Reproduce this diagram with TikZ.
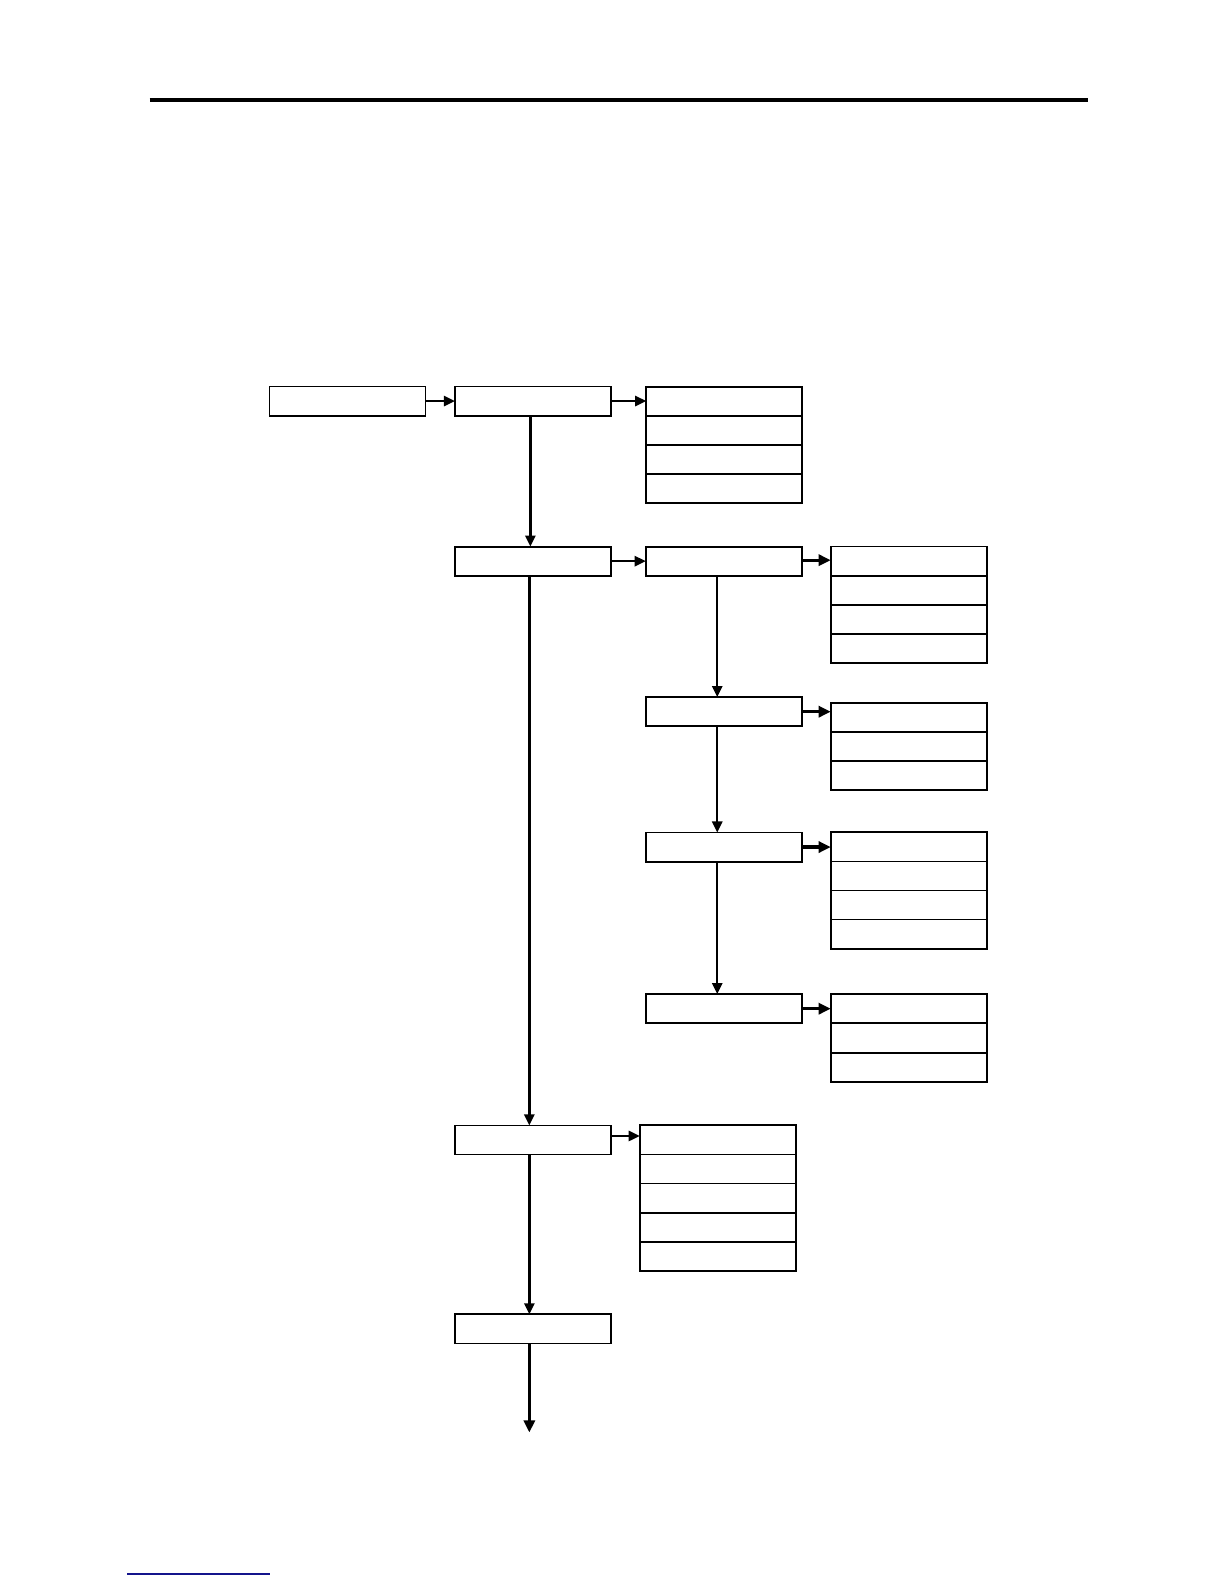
\documentclass[tikz,border=0pt]{standalone}
\usetikzlibrary{arrows.meta}
\definecolor{linkblue}{RGB}{20,20,140}
\begin{document}
\begin{tikzpicture}[x=0.05cm,y=-0.05cm,
  box/.style={draw, line width=0.09cm, minimum width=7.72cm, minimum height=1.44cm, inner sep=0pt, outer sep=0pt},
  conn/.style={line width=0.12cm, -{Triangle[length=0.55cm,width=0.5cm]}},
  thickconn/.style={line width=0.16cm, -{Triangle[length=0.6cm,width=0.55cm]}}]
\useasboundingbox (0,0) rectangle (1212,1568);
\fill[white] (0,0) rectangle (1212,1568);
% header rule and footer link line
\draw[line width=0.17cm] (148,99) -- (1077,99);
\draw[linkblue, line width=0.09cm] (126,1558) -- (267,1558);
% main boxes
\node[box] (A) at (344,397) {};
\node[box] (B) at (527.5,397) {};
\node[box] (C) at (527.5,555.5) {};
\node[box] (D) at (716.5,555.5) {};
\node[box] (E) at (716.5,704.5) {};
\node[box] (F) at (716.5,838.5) {};
\node[box] (G) at (716.5,998.5) {};
\node[box] (H) at (527.5,1128.5) {};
\node[box] (I) at (527.5,1315.5) {};
% lists
\foreach \i in {1,...,4} \node[box] (La\i) at (717,{383+28.75*\i-14.375}) {};
\foreach \i in {1,...,4} \node[box] (Lb\i) at (899.5,{541+28.75*\i-14.375}) {};
\foreach \i in {1,...,3} \node[box] (Lc\i) at (899.5,{696+28.7*\i-14.35}) {};
\foreach \i in {1,...,4} \node[box] (Ld\i) at (899.5,{824+28.75*\i-14.375}) {};
\foreach \i in {1,...,3} \node[box] (Le\i) at (899.5,{984+29*\i-14.5}) {};
\foreach \i in {1,...,5} \node[box] (Lf\i) at (710.5,{1114+28.8*\i-14.4}) {};
% helper coordinates
\coordinate (xb) at (525,0);
\coordinate (xc) at (524,0);
\coordinate (xd) at (710,0);
\coordinate (endpt) at (524,1418);
% horizontal connectors
\draw[conn] (A.east) -- (B.west);
\draw[conn] (B.east) -- (B.east -| La1.west);
\draw[conn] (C.east) -- (D.west);
\draw[thickconn] ([yshift=0.05cm]D.east) -- ([yshift=0.05cm]D.east -| Lb1.west);
\draw[thickconn] (E.east) -- (E.east -| Lc1.west);
\draw[thickconn] (F.east) -- (F.east -| Ld1.west);
\draw[thickconn] (G.east) -- (G.east -| Le1.west);
\draw[conn] ([yshift=0.2cm]H.east) -- ([yshift=0.2cm]H.east -| Lf1.west);
% vertical connectors
\draw[conn] (B.south -| xb) -- (C.north -| xb);
\draw[conn] (C.south -| xc) -- (H.north -| xc);
\draw[conn] (H.south -| xc) -- (I.north -| xc);
\draw[thickconn] (I.south -| xc) -- (endpt);
\draw[conn] (D.south -| xd) -- (E.north -| xd);
\draw[conn] (E.south -| xd) -- (F.north -| xd);
\draw[conn] (F.south -| xd) -- (G.north -| xd);
\end{tikzpicture}
\end{document}
